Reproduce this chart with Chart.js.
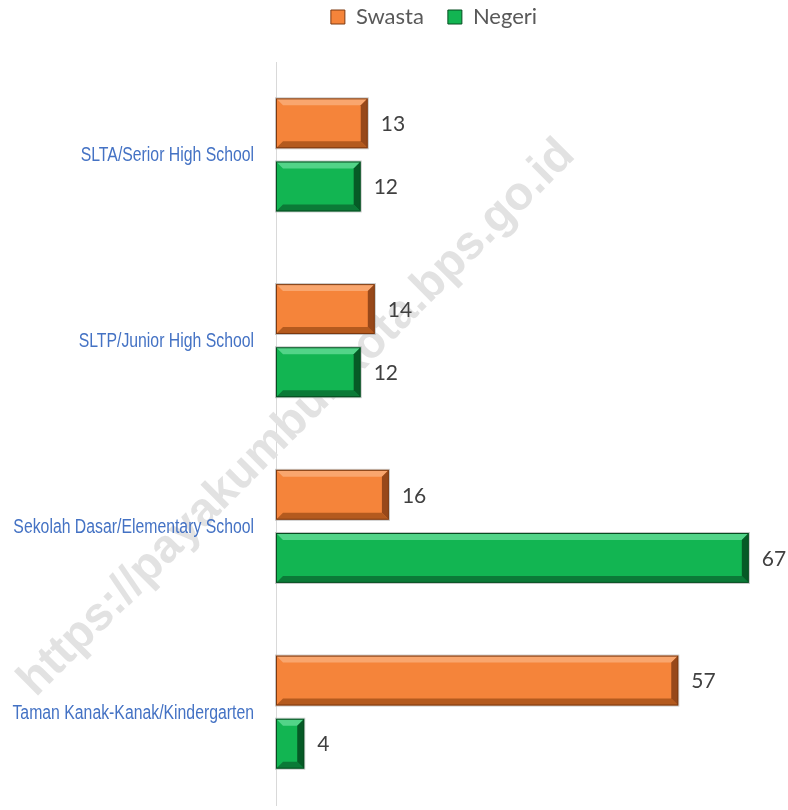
<!DOCTYPE html>
<html>
<head>
<meta charset="utf-8">
<script src="https://cdn.jsdelivr.net/npm/chart.js@4.4.0/dist/chart.umd.min.js"></script>
<style>
  html, body { margin: 0; padding: 0; background: #fff; }
  #wrap { width: 788px; height: 810px; }
</style>
</head>
<body>
<div id="wrap"><canvas id="chart"></canvas></div>
<script>
// data (top to bottom)
const categories = [
  'SLTA/Serior High School',
  'SLTP/Junior High School',
  'Sekolah Dasar/Elementary School',
  'Taman Kanak-Kanak/Kindergarten'
];
const swasta = [13, 14, 16, 57];
const negeri = [12, 12, 67, 4];
const watermark = 'https://payakumbuhkota.bps.go.id';

// bevel colours per series
const bevel = [
  { body: '#F5843A', light: '#F9A66E', dark: '#B45A1E', darker: '#97481A', edge: '#7E3A10' },
  { body: '#12B552', light: '#52D488', dark: '#0B7A37', darker: '#065A26', edge: '#064D20' }
];

const watermarkPlugin = {
  id: 'watermark',
  beforeDatasetsDraw(chart) {
    const ctx = chart.ctx;
    ctx.save();
    ctx.translate(297, 418);
    ctx.rotate(-45 * Math.PI / 180);
    ctx.font = 'bold 47px "Liberation Sans", Arial, sans-serif';
    ctx.fillStyle = '#e2e2e2';
    ctx.textAlign = 'center';
    ctx.textBaseline = 'middle';
    ctx.fillText(watermark, 0, 0);
    ctx.restore();
  }
};

// legend sits higher, plot starts lower
const legendGap = {
  id: 'legendGap',
  beforeInit(chart) {
    const lg = chart.legend;
    const fit = lg.fit;
    lg.fit = function () {
      fit.call(lg);
      this.height += 6;
    };
    const draw = lg.draw;
    lg.draw = function () {
      chart.ctx.save();
      chart.ctx.translate(0, -18);
      draw.call(lg);
      chart.ctx.restore();
    };
  }
};

// condensed category labels, right aligned against the axis
const catLabels = {
  id: 'catLabels',
  afterDraw(chart) {
    const ctx = chart.ctx;
    const yScale = chart.scales.y;
    const right = chart.chartArea.left - 22;
    ctx.save();
    ctx.font = '20px "Liberation Sans", Arial, sans-serif';
    ctx.fillStyle = '#4472C4';
    ctx.textAlign = 'right';
    ctx.textBaseline = 'middle';
    const sx = 0.79;
    categories.forEach((c, i) => {
      const y = yScale.getPixelForTick(i);
      ctx.save();
      ctx.translate(right, y + 1);
      ctx.scale(sx, 1);
      ctx.fillText(c, 0, 0);
      ctx.restore();
    });
    ctx.restore();
  }
};

// draw the 3D-ish bevel on top of each bar plus the value label
const bevelPlugin = {
  id: 'bevel',
  afterDatasetsDraw(chart) {
    const ctx = chart.ctx;
    chart.data.datasets.forEach((ds, i) => {
      const meta = chart.getDatasetMeta(i);
      const c = bevel[i];
      meta.data.forEach((bar, j) => {
        const p = bar.getProps(['x', 'y', 'base', 'height'], true);
        const l = p.base, r = p.x, t = p.y - p.height / 2, b = p.y + p.height / 2;
        const w = r - l, h = b - t;
        const bw = Math.min(7, w / 3, h / 3);
        ctx.save();
        ctx.fillStyle = c.body;
        ctx.fillRect(l, t, w, h);
        // top
        ctx.fillStyle = c.light;
        ctx.beginPath();
        ctx.moveTo(l, t); ctx.lineTo(r, t); ctx.lineTo(r - bw, t + bw); ctx.lineTo(l + bw, t + bw);
        ctx.closePath(); ctx.fill();
        // bottom
        ctx.fillStyle = c.dark;
        ctx.beginPath();
        ctx.moveTo(l, b); ctx.lineTo(r, b); ctx.lineTo(r - bw, b - bw); ctx.lineTo(l + bw, b - bw);
        ctx.closePath(); ctx.fill();
        // right
        ctx.fillStyle = c.darker;
        ctx.beginPath();
        ctx.moveTo(r, t); ctx.lineTo(r, b); ctx.lineTo(r - bw, b - bw); ctx.lineTo(r - bw, t + bw);
        ctx.closePath(); ctx.fill();
        // outline
        ctx.strokeStyle = c.edge;
        ctx.lineWidth = 1;
        ctx.strokeRect(l + 0.5, t + 0.5, w - 1, h - 1);
        ctx.strokeStyle = 'rgba(160,160,160,0.6)';
        ctx.strokeRect(l - 0.5, t - 0.5, w + 1, h + 1);
        ctx.restore();

        // value label
        ctx.save();
        ctx.font = '21px Lato, "Open Sans", sans-serif';
        ctx.fillStyle = '#404040';
        ctx.textAlign = 'left';
        ctx.textBaseline = 'middle';
        ctx.fillText(String(ds.data[j]), r + 13, p.y + 1);
        ctx.restore();
      });
    });
  }
};

new Chart(document.getElementById('chart'), {
  type: 'bar',
  data: {
    labels: categories,
    datasets: [
      { label: 'Swasta', data: swasta, backgroundColor: bevel[0].body, borderColor: bevel[0].edge, borderWidth: 1 },
      { label: 'Negeri', data: negeri, backgroundColor: bevel[1].body, borderColor: bevel[1].edge, borderWidth: 1 }
    ]
  },
  options: {
    indexAxis: 'y',
    responsive: true,
    maintainAspectRatio: false,
    animation: false,
    datasets: {
      bar: { categoryPercentage: 0.68, barPercentage: 0.79 }
    },
    layout: { padding: { left: 98, right: 18, top: 0, bottom: 5 } },
    plugins: {
      legend: {
        position: 'top',
        align: 'center',
        labels: {
          boxWidth: 14,
          boxHeight: 14,
          padding: 24,
          color: '#595959',
          font: { family: 'Lato, "Open Sans", sans-serif', size: 22 }
        }
      },
      tooltip: { enabled: false }
    },
    scales: {
      x: { display: false, min: 0, max: 70 },
      y: {
        afterFit(scale) { scale.width = 178; },
        grid: { display: false },
        border: { display: true, color: '#d9d9d9', width: 1 },
        ticks: { display: false }
      }
    }
  },
  plugins: [legendGap, watermarkPlugin, bevelPlugin, catLabels]
});
</script>
</body>
</html>
